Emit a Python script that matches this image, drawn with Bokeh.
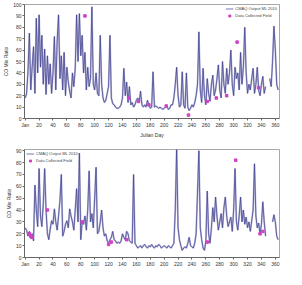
from bokeh.plotting import figure
from bokeh.layouts import column
from bokeh.models import Range1d, FixedTicker, Legend, LegendItem
from bokeh.embed import file_html
from bokeh.resources import INLINE

nan = float("nan")

days = list(range(0, 365, 2))

top_model = [
    18, 22, 41, 75, 25, 45, 63, 22, 88, 40,
    91, 45, 73, 30, 61, 21, 55, 30, 48, 22,
    40, 72, 25, 68, 91, 35, 55, 25, 58, 20,
    45, 32, 24, 18, 40, 28, 44, 91, 50, 92,
    55, 73, 40, 58, 25, 45, 28, 35, 98, 30,
    25, 40, 22, 20, 73, 30, 18, 14, 16, 22,
    28, 73, 18, 13, 12, 10, 9, 9, 10, 12,
    18, 44, 20, 32, 14, 28, 12, 14, 10, 12,
    16, 18, 14, 24, 12, 10, 12, 10, 16, 12,
    9, 10, 41, 10, 11, 10, 9, 10, 9, 8,
    9, 10, 11, 8, 9, 12, 12, 18, 30, 45,
    20, 10, 12, 41, 12, 9, 40, 10, 7, 9,
    12, 10, 14, 20, 30, 76, 25, 14, 44, 20,
    12, 35, 22, 15, 30, 38, 20, 25, 35, 47,
    25, 18, 50, 30, 22, 44, 30, 40, 60, 30,
    20, 45, 35, 40, 25, 58, 30, 45, 80, 40,
    22, 30, 25, 35, 44, 22, 30, 45, 25, 20,
    30, 37, 22, 28, nan, nan, 35, 28, 50, 81,
    60, 30, 25,
]

bottom_model = [
    25, 23, 18, 22, 16, 20, 14, 61, 40, 26,
    75, 35, 26, 45, 75, 40, 20, 15, 24, 31,
    28, 41, 30, 23, 35, 48, 70, 18, 22, 28,
    31, 25, 41, 35, 30, 23, 40, 58, 30, 88,
    15, 30, 28, 35, 23, 40, 73, 30, 37, 25,
    50, 76, 20, 22, 30, 40, 25, 18, 20, 14,
    12, 15, 17, 22, 15, 14, 12, 13, 12, 14,
    20, 17, 15, 22, 20, 14, 13, 12, 70, 12,
    10, 8, 9, 10, 8, 10, 11, 9, 8, 10,
    9, 11, 9, 8, 10, 9, 11, 10, 8, 9,
    10, 9, 8, 10, 9, 8, 10, 12, 40, 93,
    25, 15, 10, 6, 8, 9, 8, 12, 17, 10,
    9, 8, 12, 20, 55, 90, 25, 15, 8, 6,
    14, 56, 20, 12, 25, 42, 30, 51, 35, 23,
    30, 37, 25, 42, 51, 35, 26, 30, 34, 22,
    40, 75, 30, 23, 35, 51, 30, 40, 28, 34,
    25, 30, 22, 31, 40, 79, 35, 25, 29, 20,
    28, 47, 30, 18, nan, nan, nan, nan, 30, 36,
    30, 18, 15,
]

top_obs_day = [86, 149, 163, 178, 203, 235, 262, 275, 290, 305, 336]
top_obs_val = [90, 18, 15, 12, 11, 3, 15, 18, 20, 67, 27]

bottom_obs_day = [6, 8, 10, 32, 82, 120, 124, 146, 262, 303, 338, 342]
bottom_obs_val = [20, 18, 17, 40, 30, 11, 13, 15, 13, 82, 20, 22]

x_ticks = list(range(0, 361, 20))
top_y_ticks = list(range(0, 101, 10))
bottom_y_ticks = list(range(0, 91, 10))

line_label = "CMAQ Output ML 2010"
obs_label = "Data Collected Field"
y_label = "CO Mix Ratio"
x_label = "Julian Day"

FONT = "Liberation Sans"


def make_panel(model, obs_d, obs_v, yticks, ymax, height, left, top, bottom,
               xlabel, legend_loc):
    p = figure(width=286, height=height, output_backend="svg",
               toolbar_location=None, x_range=Range1d(-1, 366),
               y_range=Range1d(0, ymax),
               min_border_left=left, min_border_right=7,
               min_border_top=top, min_border_bottom=bottom)
    p.background_fill_color = "white"
    p.border_fill_color = "white"
    p.outline_line_color = "#a8a8a8"
    p.outline_line_width = 1
    p.xgrid.visible = False
    p.ygrid.visible = False

    p.line(days, model, line_color="#b4b4d8", line_width=1.8, line_alpha=0.9)
    ln = p.line(days, model, line_color="#3c3c8a", line_width=0.7)
    sc = p.scatter(obs_d, obs_v, marker="square", size=2.5,
                   fill_color="#d040c8", line_color="#d040c8")

    for ax in (p.xaxis[0], p.yaxis[0]):
        ax.major_label_text_font = FONT
        ax.major_label_text_font_size = "5px"
        ax.major_label_text_color = "#333333"
        ax.axis_label_text_font = FONT
        ax.axis_label_text_font_size = "5px"
        ax.axis_label_text_font_style = "normal"
        ax.axis_label_text_color = "#333333"
        ax.axis_line_color = "#666666"
        ax.major_tick_line_color = "#666666"
        ax.major_tick_in = 0
        ax.major_tick_out = 2
        ax.minor_tick_line_color = None
        ax.major_label_standoff = 1
        ax.axis_label_standoff = 1

    p.xaxis.ticker = FixedTicker(ticks=x_ticks)
    p.xaxis.major_label_overrides = {0: "Jan"}
    p.yaxis.ticker = FixedTicker(ticks=yticks)
    p.yaxis.axis_label = y_label
    if xlabel:
        p.xaxis.axis_label = xlabel

    legend = Legend(items=[LegendItem(label=line_label, renderers=[ln]),
                           LegendItem(label=obs_label, renderers=[sc])],
                    location=legend_loc)
    legend.label_text_font = FONT
    legend.label_text_font_size = "4px"
    legend.label_height = 5
    legend.glyph_height = 5
    legend.glyph_width = 8
    legend.spacing = 2
    legend.padding = 2
    legend.margin = 2
    legend.label_standoff = 2
    legend.border_line_color = None
    legend.background_fill_alpha = 0.8
    p.add_layout(legend)
    return p


p1 = make_panel(top_model, top_obs_day, top_obs_val, top_y_ticks, 100, 140,
                19, 4, 20, x_label, "top_right")
p2 = make_panel(bottom_model, bottom_obs_day, bottom_obs_val, bottom_y_ticks,
                91, 129, 23, 9, 11, None, "top_left")

layout = column(p1, p2, spacing=0)

open("out.html", "w").write(file_html(layout, INLINE))
